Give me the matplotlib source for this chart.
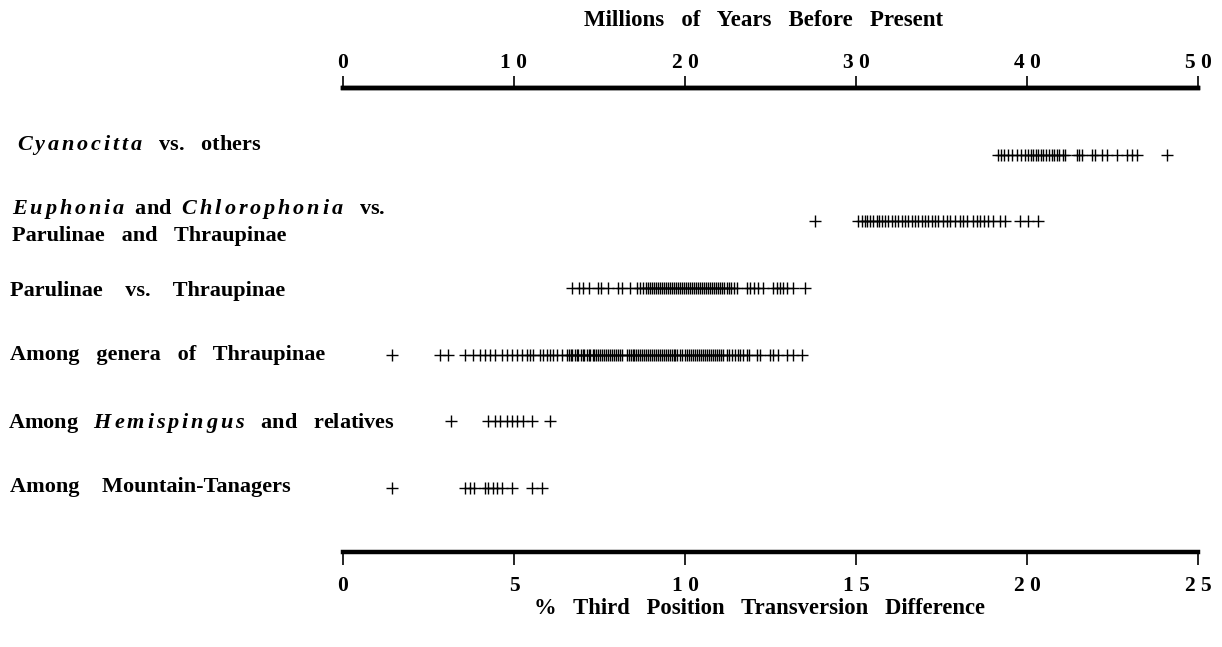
import matplotlib
matplotlib.use("Agg")
import matplotlib.pyplot as plt
from matplotlib.transforms import blended_transform_factory

plt.rcParams['font.family'] = ['Liberation Serif', 'DejaVu Serif']
plt.rcParams['font.weight'] = 'bold'
plt.rcParams['mathtext.fontset'] = 'custom'
plt.rcParams['mathtext.rm'] = 'Liberation Serif:bold'
plt.rcParams['mathtext.it'] = 'Liberation Serif:italic:bold'
plt.rcParams['mathtext.bf'] = 'Liberation Serif:bold'

# % third position transversion difference, one list per comparison
cyanocitta = [19.16, 19.23, 19.34, 19.45, 19.57, 19.72, 19.82, 19.94, 20.04, 20.11,
              20.18, 20.26, 20.33, 20.40, 20.48, 20.56, 20.63, 20.72, 20.79, 20.87,
              20.94, 21.04, 21.11, 21.45, 21.53, 21.60, 21.89, 21.99, 22.18, 22.33,
              22.62, 22.92, 23.06, 23.21, 24.08]
euphonia = [13.80, 15.07, 15.17, 15.26, 15.33, 15.41, 15.51, 15.60, 15.68, 15.75,
            15.85, 15.94, 16.04, 16.14, 16.24, 16.34, 16.43, 16.53, 16.63, 16.73,
            16.82, 16.92, 17.02, 17.11, 17.21, 17.31, 17.41, 17.55, 17.65, 17.75,
            17.89, 18.04, 18.14, 18.24, 18.43, 18.53, 18.63, 18.74, 18.87, 19.01,
            19.21, 19.36, 19.80, 20.04, 20.33]
parulinae = [6.69, 6.91, 7.03, 7.20, 7.46, 7.53, 7.76, 8.05, 8.15, 8.39, 8.59, 8.68,
             8.78, 8.87, 8.93, 8.98, 9.04, 9.10, 9.16, 9.21, 9.27, 9.33, 9.38, 9.44,
             9.50, 9.56, 9.61, 9.67, 9.73, 9.79, 9.85, 9.90, 9.96, 10.02, 10.08, 10.14,
             10.20, 10.26, 10.31, 10.37, 10.43, 10.49, 10.55, 10.61, 10.67, 10.73,
             10.79, 10.85, 10.91, 10.97, 11.03, 11.09, 11.15, 11.22, 11.28, 11.35,
             11.42, 11.51, 11.80, 11.90, 12.02, 12.14, 12.29, 12.58, 12.68, 12.78,
             12.87, 12.99, 13.17, 13.51]
thraupinae = [1.42, 2.84, 3.08, 3.57, 3.81, 4.01, 4.15, 4.30, 4.44, 4.64, 4.79, 4.93,
              5.08, 5.22, 5.37, 5.47, 5.57, 5.76, 5.86, 5.96, 6.05, 6.15, 6.25, 6.39,
              6.54, 6.60, 6.66, 6.71, 6.77, 6.83, 6.88, 6.95, 7.01, 7.06, 7.12, 7.18,
              7.23, 7.30, 7.35, 7.41, 7.47, 7.52, 7.58, 7.64, 7.70, 7.75, 7.81, 7.87,
              7.92, 7.98, 8.04, 8.10, 8.16, 8.30, 8.35, 8.41, 8.47, 8.52, 8.58, 8.64,
              8.69, 8.75, 8.81, 8.87, 8.92, 8.98, 9.04, 9.09, 9.15, 9.21, 9.27, 9.32,
              9.38, 9.44, 9.50, 9.55, 9.61, 9.67, 9.72, 9.78, 9.84, 9.90, 10.01, 10.06,
              10.12, 10.18, 10.24, 10.29, 10.35, 10.41, 10.47, 10.52, 10.58, 10.64,
              10.70, 10.75, 10.81, 10.87, 10.93, 10.98, 11.04, 11.10, 11.22, 11.30,
              11.38, 11.45, 11.55, 11.62, 11.71, 11.80, 11.88, 12.10, 12.19, 12.49,
              12.58, 12.73, 12.97, 13.17, 13.41]
hemispingus = [3.16, 4.25, 4.44, 4.59, 4.79, 4.93, 5.08, 5.27, 5.52, 6.05]
mountain = [1.42, 3.57, 3.71, 3.83, 4.15, 4.25, 4.39, 4.49, 4.64, 4.93, 5.52, 5.81]

rows = [cyanocitta, euphonia, parulinae, thraupinae, hemispingus, mountain]

pct_ticks = [0, 5, 10, 15, 20, 25]
mya_ticks = [0, 10, 20, 30, 40, 50]

fig = plt.figure(figsize=(12.22, 6.47), dpi=100)
ax = fig.add_axes([343 / 1222, 95 / 647, 855 / 1222, 464 / 647])

for i, vals in enumerate(rows):
    ax.plot(vals, [i] * len(vals), linestyle='none', marker='+', color='black',
            markersize=8.5, markeredgewidth=1.0, clip_on=False)

ax.set_xlim(0, 25)
ax.set_ylim(5.96, -1.0)
ax.set_yticks([])
for s in ['left', 'right']:
    ax.spines[s].set_visible(False)
for s in ['top', 'bottom']:
    ax.spines[s].set_linewidth(3.2)

ax.set_xticks(pct_ticks)
ax.set_xticklabels([' '.join(str(t)) for t in pct_ticks], fontsize=15.5, fontweight='bold')
ax.tick_params(axis='x', direction='out', length=9, width=1.2, pad=8)

top = ax.secondary_xaxis('top', functions=(lambda x: x * 2, lambda x: x / 2))
top.set_xticks(mya_ticks)
top.set_xticklabels([' '.join(str(t)) for t in mya_ticks], fontsize=15.5, fontweight='bold')
top.tick_params(direction='out', length=9, width=1.2, pad=1.5)
top.spines['top'].set_linewidth(3.2)

# row labels
tr = blended_transform_factory(fig.transFigure, ax.transData)
lx = 10 / 1222
fs = 16
ax.text(17 / 1222, -0.15, r'$\mathit{C\,y\,a\,n\,o\,c\,i\,t\,t\,a}$   vs.   others',
        transform=tr, fontsize=fs, va='center', ha='left')
ax.text(12 / 1222, 1 - 0.18,
        r'$\mathit{E\,u\,p\,h\,o\,n\,i\,a}$  and  $\mathit{C\,h\,l\,o\,r\,o\,p\,h\,o\,n\,i\,a}$   vs.',
        transform=tr, fontsize=fs, va='center', ha='left')
ax.text(12 / 1222, 1 + 0.22, 'Parulinae   and   Thraupinae',
        transform=tr, fontsize=fs, va='center', ha='left')
ax.text(lx, 2.05, 'Parulinae    vs.    Thraupinae',
        transform=tr, fontsize=fs, va='center', ha='left')
ax.text(lx, 3.0, 'Among   genera   of   Thraupinae',
        transform=tr, fontsize=fs, va='center', ha='left')
ax.text(8 / 1222, 4.02, r'Among   $\mathit{H\,e\,m\,i\,s\,p\,i\,n\,g\,u\,s}$   and   relatives',
        transform=tr, fontsize=fs, va='center', ha='left')
ax.text(lx, 4.99, 'Among    Mountain-Tanagers',
        transform=tr, fontsize=fs, va='center', ha='left')

fig.text(764 / 1222, 1 - 20 / 647, 'Millions   of   Years   Before   Present',
         ha='center', va='center', fontsize=16.5, fontweight='bold')
fig.text(760 / 1222, 1 - 608 / 647, '%   Third   Position   Transversion   Difference',
         ha='center', va='center', fontsize=16.3, fontweight='bold')

fig.savefig('out.png', dpi=100)
